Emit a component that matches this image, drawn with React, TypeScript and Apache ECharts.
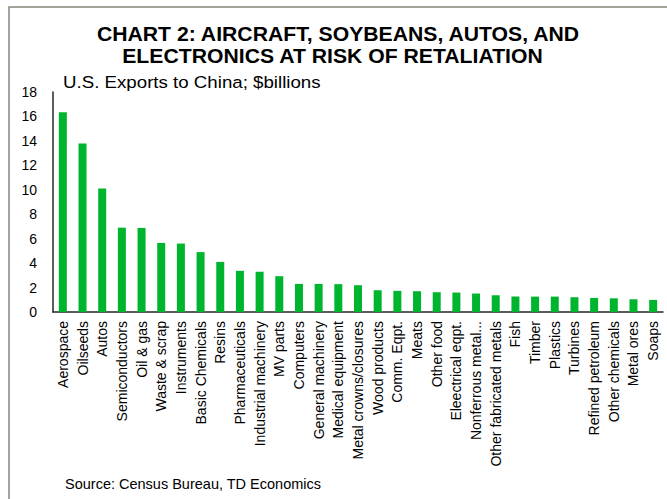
import React, { useEffect, useRef } from "react";
import * as echarts from "echarts";

const categories = [
  "Aerospace", "Oilseeds", "Autos", "Semiconductors", "Oil & gas", "Waste & scrap",
  "Instruments", "Basic Chemicals", "Resins", "Pharmaceuticals", "Industrial machinery",
  "MV parts", "Computers", "General machinery", "Medical equipment", "Metal crowns/closures",
  "Wood products", "Comm. Eqpt.", "Meats", "Other food", "Eleectrical eqpt.",
  "Nonferrous metal...", "Other fabricated metals", "Fish", "Timber", "Plastics",
  "Turbines", "Refined petroleum", "Other chemicals", "Metal ores", "Soaps",
];

const exportsToChina = [
  16.35, 13.78, 10.1, 6.9, 6.88, 5.65, 5.6, 4.9, 4.1, 3.37, 3.3, 2.93, 2.3, 2.3, 2.28,
  2.19, 1.78, 1.73, 1.7, 1.62, 1.59, 1.51, 1.37, 1.26, 1.26, 1.26, 1.21, 1.15, 1.12,
  1.04, 0.99,
];

const yTicks = { min: 0, max: 18, interval: 2 };

const titleLine1 = "CHART 2: AIRCRAFT, SOYBEANS, AUTOS, AND";
const titleLine2 = "ELECTRONICS AT RISK OF RETALIATION";
const subtitle = "U.S. Exports to China; $billions";
const source = "Source: Census Bureau, TD Economics";

const FONT = "'Liberation Sans', Arial, Helvetica, sans-serif";

export default function App() {
  const ref = useRef<HTMLDivElement>(null);

  useEffect(() => {
    if (!ref.current) return;
    const chart = echarts.init(ref.current, undefined, { renderer: "svg" });
    chart.setOption({
      animation: false,
      backgroundColor: "#ffffff",
      textStyle: { fontFamily: FONT },
      grid: { left: 53, right: 4, top: 92, bottom: 187, containLabel: false },
      xAxis: {
        type: "category",
        data: categories,
        boundaryGap: true,
        axisLine: { show: true, lineStyle: { color: "#262626", width: 1.5 } },
        axisTick: { show: false },
        axisLabel: {
          rotate: 90,
          interval: 0,
          margin: 9,
          fontSize: 14,
          color: "#000000",
          fontFamily: FONT,
        },
        splitLine: { show: false },
      },
      yAxis: {
        type: "value",
        min: yTicks.min,
        max: yTicks.max,
        interval: yTicks.interval,
        axisLine: { show: true, lineStyle: { color: "#262626", width: 1.5 } },
        axisTick: { show: false },
        axisLabel: { margin: 16, fontSize: 14, color: "#000000", fontFamily: FONT },
        splitLine: { show: false },
      },
      series: [
        {
          type: "bar",
          data: exportsToChina,
          barWidth: 8,
          itemStyle: { color: "#00B52E" },
        },
      ],
      graphic: [
        {
          type: "rect",
          shape: { x: 9, y: 7, width: 700, height: 600 },
          style: { fill: "none", stroke: "#86867a", lineWidth: 1.5 },
          silent: true,
        },
        {
          type: "text",
          x: 338,
          y: 34,
          scaleX: 1.06,
          style: {
            text: titleLine1,
            fontSize: 20,
            fontWeight: "bold",
            fontFamily: FONT,
            fill: "#000000",
            textAlign: "center",
            textVerticalAlign: "middle",
          },
        },
        {
          type: "text",
          x: 332.5,
          y: 55.5,
          scaleX: 1.06,
          style: {
            text: titleLine2,
            fontSize: 20,
            fontWeight: "bold",
            fontFamily: FONT,
            fill: "#000000",
            textAlign: "center",
            textVerticalAlign: "middle",
          },
        },
        {
          type: "text",
          x: 63,
          y: 82,
          scaleX: 1.1,
          style: {
            text: subtitle,
            fontSize: 17,
            fontFamily: FONT,
            fill: "#000000",
            textAlign: "left",
            textVerticalAlign: "middle",
          },
        },
        {
          type: "text",
          x: 65,
          y: 484,
          style: {
            text: source,
            fontSize: 14.5,
            fontFamily: FONT,
            fill: "#000000",
            textAlign: "left",
            textVerticalAlign: "middle",
          },
        },
      ],
    });
    return () => chart.dispose();
  }, []);

  return (
    <div
      ref={ref}
      style={{ position: "absolute", left: 0, top: 0, width: 667, height: 499 }}
    />
  );
}
